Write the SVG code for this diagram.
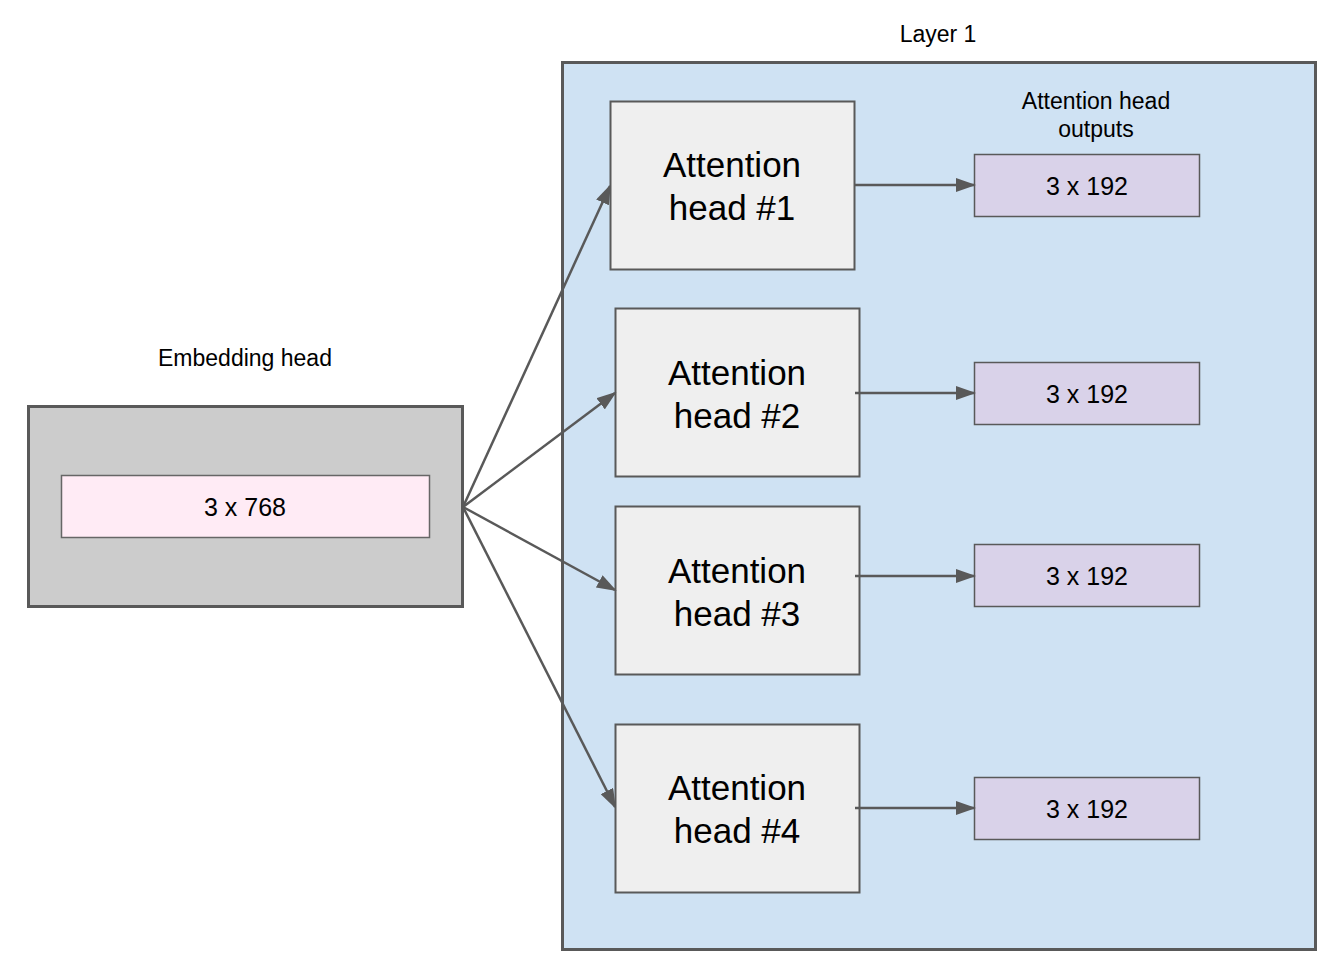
<svg xmlns="http://www.w3.org/2000/svg" width="1338" height="961" viewBox="0 0 1338 961">
<style>
text{font-family:"Liberation Sans",Arial,sans-serif;fill:#000;text-anchor:middle}
.lbl{font-size:23px}
.head{fill:#efefef;stroke:#595959;stroke-width:2}
.out{fill:#d9d2e9;stroke:#595959;stroke-width:1.5}
.big{font-size:35px}
.mid{font-size:25px}
.conn{stroke:#595959;stroke-width:2.5;fill:none;marker-end:url(#ah)}
</style>
<defs>
<marker id="ah" markerUnits="userSpaceOnUse" markerWidth="20" markerHeight="14" viewBox="0 0 20 14" refX="18" refY="7" orient="auto">
<path d="M0,0 L20,7 L0,14 z" fill="#595959"/>
</marker>
</defs>
<rect width="1338" height="961" fill="#fff"/>
<g id="layer1">
<rect x="562.5" y="62.5" width="753" height="887" fill="#cfe2f3" stroke="#595959" stroke-width="3"/>
<text class="lbl" x="938" y="42">Layer 1</text>
<text class="lbl" x="1096" y="109">Attention head</text>
<text class="lbl" x="1096" y="137">outputs</text>
</g>
<g id="embedding">
<text class="lbl" x="245" y="366">Embedding head</text>
<rect x="28.5" y="406.5" width="434" height="200" fill="#cccccc" stroke="#595959" stroke-width="3"/>
<rect x="61.5" y="475.5" width="368" height="62" fill="#ffebf5" stroke="#666" stroke-width="1.5"/>
<text class="mid" x="245" y="516">3 x 768</text>
</g>
<g id="head1">
<rect class="head" x="610.5" y="101.5" width="244" height="168"/>
<text class="big" x="732" y="177">Attention</text>
<text class="big" x="732" y="220">head #1</text>
</g>
<g id="head2">
<rect class="head" x="615.5" y="308.5" width="244" height="168"/>
<text class="big" x="737" y="385">Attention</text>
<text class="big" x="737" y="428">head #2</text>
</g>
<g id="head3">
<rect class="head" x="615.5" y="506.5" width="244" height="168"/>
<text class="big" x="737" y="583">Attention</text>
<text class="big" x="737" y="626">head #3</text>
</g>
<g id="head4">
<rect class="head" x="615.5" y="724.5" width="244" height="168"/>
<text class="big" x="737" y="800">Attention</text>
<text class="big" x="737" y="843">head #4</text>
</g>
<g id="out1">
<rect class="out" x="974.5" y="154.5" width="225" height="62"/>
<text class="mid" x="1087" y="195">3 x 192</text>
</g>
<g id="out2">
<rect class="out" x="974.5" y="362.5" width="225" height="62"/>
<text class="mid" x="1087" y="403">3 x 192</text>
</g>
<g id="out3">
<rect class="out" x="974.5" y="544.5" width="225" height="62"/>
<text class="mid" x="1087" y="585">3 x 192</text>
</g>
<g id="out4">
<rect class="out" x="974.5" y="777.5" width="225" height="62"/>
<text class="mid" x="1087" y="818">3 x 192</text>
</g>
<g id="connectors">
<line class="conn" x1="463" y1="507" x2="610" y2="186"/>
<line class="conn" x1="463" y1="507" x2="615" y2="393"/>
<line class="conn" x1="463" y1="507" x2="615" y2="590"/>
<line class="conn" x1="463" y1="507" x2="615" y2="807"/>
<line class="conn" x1="855" y1="185" x2="974" y2="185"/>
<line class="conn" x1="855" y1="393" x2="974" y2="393"/>
<line class="conn" x1="855" y1="576" x2="974" y2="576"/>
<line class="conn" x1="855" y1="808" x2="974" y2="808"/>
</g>
</svg>
